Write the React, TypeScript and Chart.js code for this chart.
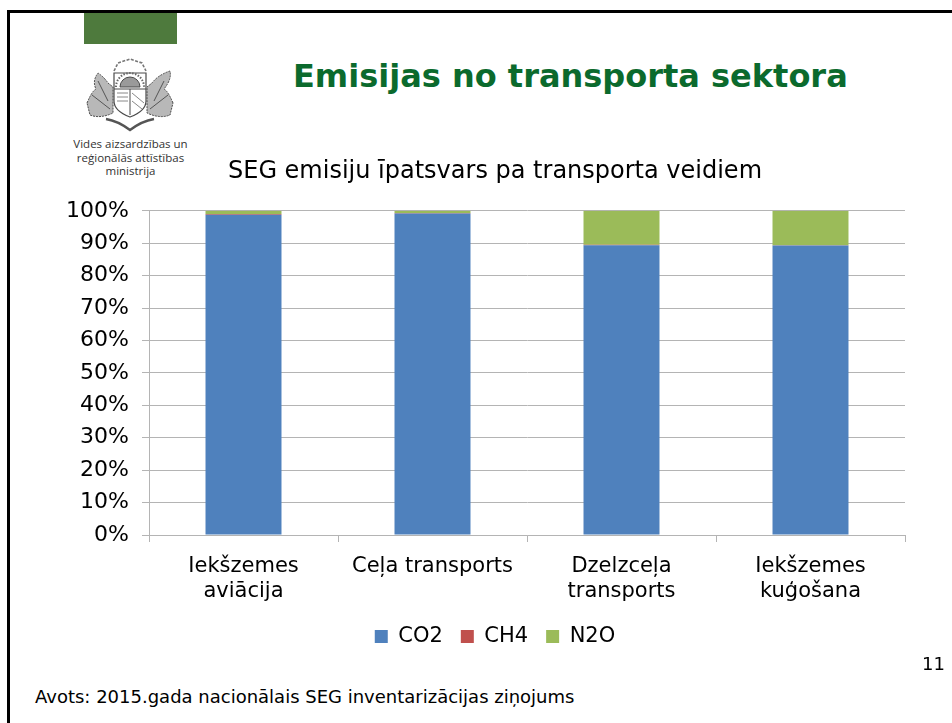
import React, { useEffect, useRef } from "react";
import { Chart, registerables } from "chart.js";

Chart.register(...registerables);

const categories = [["Iekšzemes", "aviācija"], "Ceļa transports", ["Dzelzceļa", "transports"], ["Iekšzemes", "kuģošana"]];
const co2 = [98.8, 99.2, 89.4, 89.3];
const ch4 = [0.2, 0.1, 0.1, 0.1];
const n2o = [1.0, 0.7, 10.5, 10.6];
const FONT = "'DejaVu Sans', Verdana, sans-serif";
const GRID = "#b4b4b4";

const abs = (left: number, top: number, extra: React.CSSProperties = {}): React.CSSProperties => ({
  position: "absolute", left, top, whiteSpace: "nowrap", fontFamily: FONT, lineHeight: 1, ...extra,
});

function Emblem() {
  return (
    <svg style={{ position: "absolute", left: 84, top: 57 }} width={93} height={76} viewBox="0 0 93 76">
      <g fill="none" stroke="#4a4a4a" strokeWidth={1}>
        <path d="M30 14 L34 6 L46 2 L58 6 L62 14" strokeDasharray="3 1.5" stroke="#777" strokeWidth={1.6} />
        <path d="M30 16 H62 V44 Q62 54 46 60 Q30 54 30 44 Z" strokeWidth={1.2} />
        <path d="M36 30 A10 10 0 0 1 56 30 Z" fill="#9a9a9a" />
        <path d="M32 30 A14 14 0 0 1 60 30" strokeDasharray="1.5 1.5" strokeWidth={2} stroke="#666" />
        <path d="M30 32 H62 M46 32 V58" />
        <path d="M33 36 H44 M33 40 H44 M33 44 H44 M48 36 L60 46 M48 44 L58 52" stroke="#888" />
        <path d="M3 46 Q8 34 12 32 Q8 24 14 16 Q20 20 24 26 L29 30 V56 Q16 62 6 58 Z" fill="#b8b8b8" strokeDasharray="2 1" />
        <path d="M89 46 Q84 34 80 32 Q88 22 86 14 Q74 18 68 26 L63 30 V56 Q76 62 86 58 Z" fill="#b8b8b8" strokeDasharray="2 1" />
        <path d="M8 38 L26 52 M14 24 L24 44 M84 38 L66 52 M80 24 L70 44" stroke="#555" />
        <path d="M22 62 Q34 64 46 73 Q58 64 70 62" strokeWidth={2.4} stroke="#555" />
      </g>
    </svg>
  );
}

export default function App() {
  const ref = useRef<HTMLCanvasElement>(null);
  useEffect(() => {
    const chart = new Chart(ref.current!, {
      type: "bar",
      data: {
        labels: categories as any,
        datasets: [
          { label: "CO2", data: co2, backgroundColor: "#4f81bd" },
          { label: "CH4", data: ch4, backgroundColor: "#c0504d" },
          { label: "N2O", data: n2o, backgroundColor: "#9bbb59" },
        ],
      },
      options: {
        animation: false,
        responsive: false,
        layout: { padding: 0 },
        datasets: { bar: { categoryPercentage: 1, barPercentage: 0.402 } },
        scales: {
          x: {
            stacked: true,
            grid: { drawOnChartArea: false, color: GRID, tickLength: 7 },
            border: { color: GRID },
            ticks: { color: "#000", font: { family: FONT, size: 21 }, maxRotation: 0, autoSkip: false, padding: 12 },
            afterFit: (s: any) => { s.height = 73; },
          },
          y: {
            stacked: true, min: 0, max: 100,
            grid: { color: GRID, tickLength: 7 },
            border: { color: GRID },
            ticks: { stepSize: 10, color: "#000", font: { family: FONT, size: 22 }, padding: 13, callback: (v: any) => v + "%" },
            afterFit: (s: any) => { s.width = 111; },
          },
          spacer: {
            position: "right", min: 0, max: 100,
            grid: { display: false }, border: { display: false }, ticks: { display: false },
            afterFit: (s: any) => { s.width = 47; },
          },
        },
        plugins: {
          tooltip: { enabled: false },
          title: {
            display: true,
            text: "SEG emisiju īpatsvars pa transporta veidiem",
            color: "#000",
            font: { family: FONT, size: 24, weight: "normal" },
            padding: { top: 7, bottom: 25 },
          },
          legend: {
            position: "bottom",
            labels: { color: "#000", font: { family: FONT, size: 21 }, boxWidth: 13, boxHeight: 13, padding: 18 },
          },
        },
      },
    } as any);
    return () => chart.destroy();
  }, []);

  return (
    <div style={{ position: "fixed", left: 0, top: 0, width: 952, height: 723, background: "#fff", overflow: "hidden" }}>
      <div style={{ position: "absolute", left: 7, top: 10, width: 945, height: 3, background: "#000" }} />
      <div style={{ position: "absolute", left: 7, top: 10, width: 3, height: 713, background: "#000" }} />
      <div style={{ position: "absolute", left: 84, top: 13, width: 93, height: 31, background: "#4e7a3d" }} />
      <Emblem />
      <div style={abs(44, 137, { width: 173, textAlign: "center", fontSize: 11.5, lineHeight: "13.5px", color: "#333", fontFamily: "'Open Sans', Arial, sans-serif" })}>
        Vides aizsardzības un<br />reģionālās attīstības<br />ministrija
      </div>
      <div style={abs(293, 60, { fontSize: 32, fontWeight: 700, color: "#0b6a2d" })}>Emisijas no transporta sektora</div>
      <canvas ref={ref} width={914} height={507} style={{ position: "absolute", left: 38, top: 150 }} />
      <div style={abs(35, 688, { fontSize: 18, color: "#000" })}>Avots: 2015.gada nacionālais SEG inventarizācijas ziņojums</div>
      <div style={abs(922, 655, { fontSize: 18, color: "#000" })}>11</div>
    </div>
  );
}
